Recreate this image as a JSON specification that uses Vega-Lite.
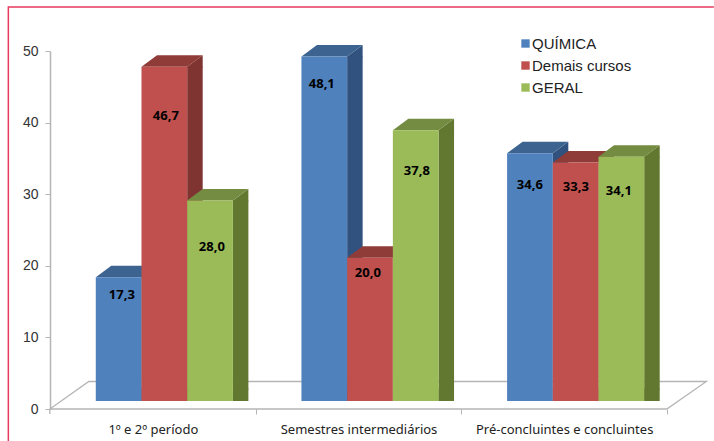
{
"$schema":"https://vega.github.io/schema/vega-lite/v6.json",
"width":617,"height":358,"autosize":"none",
"padding":{"left":50,"top":51,"right":47,"bottom":32},
"background":"white",
"config":{"view":{"stroke":null}},
"data":{"values":[
{"periodo":"1º e 2º período","serie":"QUÍMICA","valor":17.3,"rotulo":"17,3"},
{"periodo":"1º e 2º período","serie":"Demais cursos","valor":46.7,"rotulo":"46,7"},
{"periodo":"1º e 2º período","serie":"GERAL","valor":28.0,"rotulo":"28,0"},
{"periodo":"Semestres intermediários","serie":"QUÍMICA","valor":48.1,"rotulo":"48,1"},
{"periodo":"Semestres intermediários","serie":"Demais cursos","valor":20.0,"rotulo":"20,0"},
{"periodo":"Semestres intermediários","serie":"GERAL","valor":37.8,"rotulo":"37,8"},
{"periodo":"Pré-concluintes e concluintes","serie":"QUÍMICA","valor":34.6,"rotulo":"34,6"},
{"periodo":"Pré-concluintes e concluintes","serie":"Demais cursos","valor":33.3,"rotulo":"33,3"},
{"periodo":"Pré-concluintes e concluintes","serie":"GERAL","valor":34.1,"rotulo":"34,1"}
]},
"encoding":{
"x":{"field":"periodo","type":"nominal","sort":null,
 "scale":{"domain":["1º e 2º período","Semestres intermediários","Pré-concluintes e concluintes"],"paddingInner":0.3333,"paddingOuter":0.1667,"range":[11.5,628.5]},
 "axis":{"title":null,"labelAngle":0,"labelFont":"Noto Sans","labelFontSize":13,"labelColor":"#222222","domain":false,"tickColor":"#b5b5b5","tickOffset":91.2,"tickSize":5,"labelPadding":9,"labelOffset":-102.7}},
"xOffset":{"field":"serie","type":"nominal","sort":null,"scale":{"domain":["QUÍMICA","Demais cursos","GERAL"],"paddingInner":0,"paddingOuter":0}},
"y":{"field":"valor","type":"quantitative","scale":{"domain":[0,50],"nice":false},
 "axis":{"title":null,"grid":false,"values":[0,10,20,30,40,50],"labelFont":"Liberation Sans","labelFontSize":14,"labelColor":"#333333","domainColor":"#b5b5b5","tickColor":"#b5b5b5","tickSize":5,"labelPadding":7,"domainWidth":1.5}}
},
"layer":[
{"data":{"values":[{"periodo":"1º e 2º período","valor":0}]},
 "mark":{"type":"point","shape":"M-156,32 L-156,-402 L549.5,-402","size":4,"filled":false,"stroke":"#e8395f","strokeWidth":1.5,"opacity":1},
 "encoding":{"xOffset":null}},
{"data":{"values":[{"periodo":"1º e 2º período","valor":0}]},
 "mark":{"type":"point","shape":"M-114.5,5 L-114.5,0 L-75.5,-27.5 L542,-27.5 L502.5,0 L-114.5,0","size":4,"filled":false,"stroke":"#b5b5b5","strokeWidth":1.3,"opacity":1},
 "encoding":{"xOffset":null}},
{"transform":[{"filter":"datum.serie=='QUÍMICA'"}],"mark":{"type":"bar","width":15.5,"color":"#31527e","xOffset":-15.1,"yOffset":-8,"y2Offset":-19.5},"encoding":{"xOffset":null}},
{"transform":[{"filter":"datum.serie=='Demais cursos'"}],"mark":{"type":"bar","width":15.5,"color":"#7f3431","xOffset":30.6,"yOffset":-8,"y2Offset":-19.5},"encoding":{"xOffset":null}},
{"transform":[{"filter":"datum.serie=='GERAL'"}],"mark":{"type":"bar","width":15.5,"color":"#62772f","xOffset":76.3,"yOffset":-8,"y2Offset":-19.5},"encoding":{"xOffset":null}},
{"mark":{"type":"point","shape":"M22.85,-8 L38.35,-19.5 L38.35,-7 L22.85,-7 Z","size":4,"filled":true,"opacity":1},
 "encoding":{"color":{"field":"serie","type":"nominal","sort":null,"legend":null,"scale":{"domain":["QUÍMICA","Demais cursos","GERAL"],"range":["#31527e","#7f3431","#62772f"]}}}},
{"mark":{"type":"point","shape":"M22.85,-8 L38.35,-19.5 L38.35,-20.5 L22.85,-20.5 Z","size":4,"filled":true,"opacity":1},
 "encoding":{"y":{"datum":0,"type":"quantitative"},"color":{"field":"serie","type":"nominal","sort":null,"legend":null,"scale":{"domain":["QUÍMICA","Demais cursos","GERAL"],"range":["#31527e","#7f3431","#62772f"]}}}},
{"mark":{"type":"point","shape":"M-22.85,-8 L22.85,-8 L38.35,-19.5 L-7.35,-19.5 Z","size":4,"filled":true,"opacity":1},
 "encoding":{"color":{"field":"serie","type":"nominal","sort":null,"legend":null,"scale":{"domain":["QUÍMICA","Demais cursos","GERAL"],"range":["#3d6391","#8f3b38","#748c42"]}}}},
{"mark":{"type":"bar","yOffset":-8,"y2Offset":-8},
 "encoding":{"color":{"field":"serie","type":"nominal","sort":null,
  "scale":{"domain":["QUÍMICA","Demais cursos","GERAL"],"range":["#4f81bd","#c0504d","#9bbb59"]},
  "legend":{"title":null,"orient":"none","legendX":468,"legendY":-15,"symbolType":"square","symbolSize":70,"symbolStrokeWidth":0,"labelFont":"Liberation Sans","labelFontSize":15,"labelColor":"#222222","rowPadding":6,"labelOffset":-1}}}},
{"transform":[{"filter":"datum.rotulo=='17,3'"}],"mark":{"type":"text","font":"Noto Sans","fontWeight":"bold","fontSize":13,"color":"black","baseline":"middle","dx":3.2,"dy":10},"encoding":{"text":{"field":"rotulo"}}},
{"transform":[{"filter":"datum.rotulo=='46,7'"}],"mark":{"type":"text","font":"Noto Sans","fontWeight":"bold","fontSize":13,"color":"black","baseline":"middle","dx":1.5,"dy":41.4},"encoding":{"text":{"field":"rotulo"}}},
{"transform":[{"filter":"datum.rotulo=='28,0'"}],"mark":{"type":"text","font":"Noto Sans","fontWeight":"bold","fontSize":13,"color":"black","baseline":"middle","dx":1.8,"dy":38.5},"encoding":{"text":{"field":"rotulo"}}},
{"transform":[{"filter":"datum.rotulo=='48,1'"}],"mark":{"type":"text","font":"Noto Sans","fontWeight":"bold","fontSize":13,"color":"black","baseline":"middle","dx":-2.5,"dy":19.4},"encoding":{"text":{"field":"rotulo"}}},
{"transform":[{"filter":"datum.rotulo=='20,0'"}],"mark":{"type":"text","font":"Noto Sans","fontWeight":"bold","fontSize":13,"color":"black","baseline":"middle","dx":-2.2,"dy":7},"encoding":{"text":{"field":"rotulo"}}},
{"transform":[{"filter":"datum.rotulo=='37,8'"}],"mark":{"type":"text","font":"Noto Sans","fontWeight":"bold","fontSize":13,"color":"black","baseline":"middle","dx":1.1,"dy":32.6},"encoding":{"text":{"field":"rotulo"}}},
{"transform":[{"filter":"datum.rotulo=='34,6'"}],"mark":{"type":"text","font":"Noto Sans","fontWeight":"bold","fontSize":13,"color":"black","baseline":"middle","dx":-0.1,"dy":23.7},"encoding":{"text":{"field":"rotulo"}}},
{"transform":[{"filter":"datum.rotulo=='33,3'"}],"mark":{"type":"text","font":"Noto Sans","fontWeight":"bold","fontSize":13,"color":"black","baseline":"middle","dx":0.2,"dy":16.4},"encoding":{"text":{"field":"rotulo"}}},
{"transform":[{"filter":"datum.rotulo=='34,1'"}],"mark":{"type":"text","font":"Noto Sans","fontWeight":"bold","fontSize":13,"color":"black","baseline":"middle","dx":-2.5,"dy":26.2},"encoding":{"text":{"field":"rotulo"}}}
],
"resolve":{"scale":{"color":"independent"}}
}
